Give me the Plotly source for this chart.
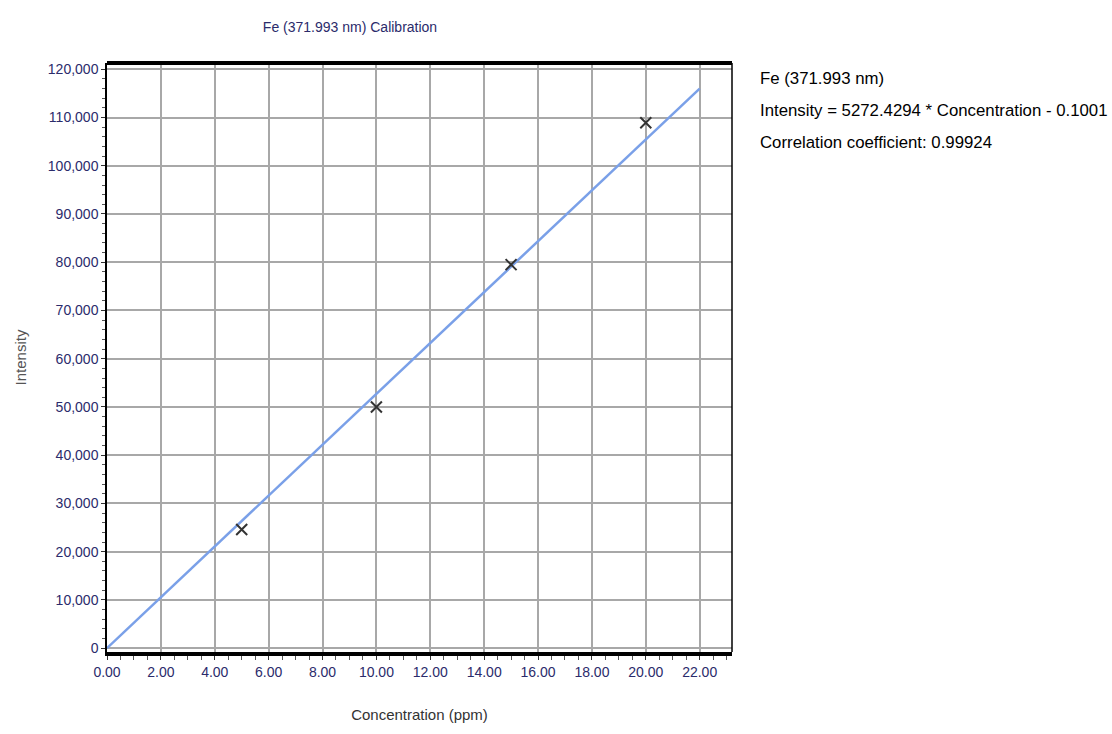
import plotly.graph_objects as go

conc = [5.0, 10.0, 15.0, 20.0]
intensity = [24600, 50000, 79500, 108900]
slope = 5272.4294
intercept = -0.1001
fit_x = [0.0, 22.0]
fit_y = [slope * x + intercept for x in fit_x]

x_ticks = [0, 2, 4, 6, 8, 10, 12, 14, 16, 18, 20, 22]
x_tick_text = ["%.2f" % v for v in x_ticks]
y_ticks = list(range(0, 120001, 10000))
y_tick_text = ["{:,}".format(v) for v in y_ticks]

info_lines = [
    "Fe (371.993 nm)",
    "Intensity = 5272.4294 * Concentration - 0.1001",
    "Correlation coefficient: 0.99924",
]

FONT = "Liberation Sans, Arial, sans-serif"

fig = go.Figure()
fig.add_trace(go.Scatter(x=fit_x, y=fit_y, mode="lines",
                         line=dict(color="#7aa0e8", width=2.5), showlegend=False))
fig.add_trace(go.Scatter(x=conc, y=intensity, mode="markers",
                         marker=dict(symbol="x-thin", size=11, line=dict(color="#333333", width=2)),
                         showlegend=False))

fig.update_layout(
    width=1112, height=734,
    margin=dict(l=107, r=380, t=63, b=80),
    plot_bgcolor="white", paper_bgcolor="white",
    font=dict(family=FONT, size=14, color="#2b2b6b"),
    title=dict(text="Fe (371.993 nm) Calibration", x=350 / 1112, xanchor="center",
               y=1 - 27 / 734, yanchor="middle", font=dict(size=14, color="#2b2b6b", family=FONT)),
    xaxis=dict(range=[0, 23.2], tickvals=x_ticks, ticktext=x_tick_text,
               showgrid=True, gridcolor="#a8a8a8", gridwidth=2,
               ticks="outside", ticklen=4, tickcolor="#333",
               minor=dict(dtick=0.5, ticks="outside", ticklen=4, tickcolor="#555", showgrid=False),
               showline=True, linecolor="black", linewidth=4, mirror=False,
               zeroline=False, tickfont=dict(size=14, color="#2b2b6b"),
               title=dict(text="Concentration (ppm)", font=dict(size=15, color="#333"), standoff=32)),
    yaxis=dict(range=[-800, 121300], tickvals=y_ticks, ticktext=y_tick_text,
               showgrid=True, gridcolor="#a8a8a8", gridwidth=2,
               ticks="outside", ticklen=4, tickcolor="#333",
               minor=dict(dtick=2000, ticks="outside", ticklen=3, tickcolor="#555", showgrid=False),
               showline=True, linecolor="black", linewidth=1.5,
               zeroline=False, tickfont=dict(size=14, color="#2b2b6b"),
               title=dict(text="Intensity", font=dict(size=15, color="#555"), standoff=18)),
)
# top thick border and right thin border
fig.add_shape(type="line", xref="paper", yref="paper", x0=0, x1=1, y0=1, y1=1,
              line=dict(color="black", width=4))
fig.add_shape(type="line", xref="paper", yref="paper", x0=1, x1=1, y0=0, y1=1,
              line=dict(color="black", width=1.5))

for i, line in enumerate(info_lines):
    fig.add_annotation(xref="paper", yref="paper", x=(758 - 107) / 625,
                       y=1 - (79 + 32 * i - 63) / 591,
                       xanchor="left", yanchor="middle", align="left", showarrow=False,
                       text=line, font=dict(size=16.8, color="black", family=FONT))

fig.write_html("out.html")
